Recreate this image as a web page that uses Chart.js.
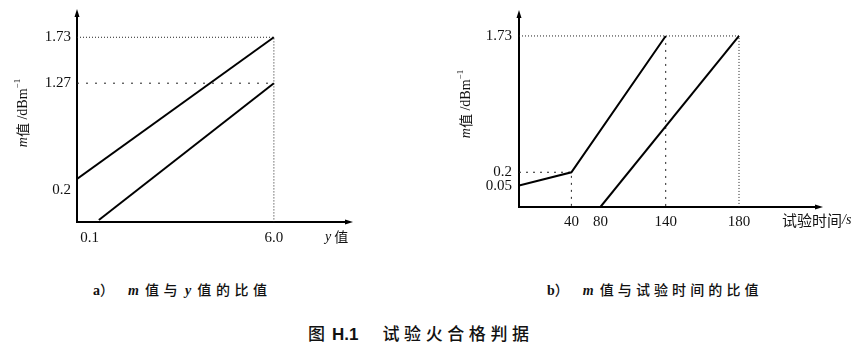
<!DOCTYPE html>
<html><head><meta charset="utf-8">
<script src="https://cdn.jsdelivr.net/npm/chart.js@4/dist/chart.umd.min.js"></script>
<style>
html,body{margin:0;padding:0;background:#fff;width:865px;height:355px;overflow:hidden;position:relative}
.box{position:absolute}
.cap{position:absolute;white-space:pre;color:#111;font-family:"Noto Sans CJK SC";font-size:14px;line-height:20px;font-weight:500}
.ser{font-family:"Liberation Serif";font-weight:bold}
.it{font-family:"Liberation Serif";font-style:italic;font-weight:bold}
</style></head><body>
<div class="box" style="left:0;top:0;width:360px;height:250px"><canvas id="ca" width="360" height="250"></canvas></div>
<div class="box" style="left:430px;top:0;width:435px;height:250px"><canvas id="cb" width="435" height="250"></canvas></div>
<div class="cap" style="left:93px;top:279px"><span class="ser">a</span><span>）</span><span class="it" style="margin-left:14px">m</span><span style="margin-left:6px;letter-spacing:4.6px">值与</span><span class="it" style="margin-left:3px">y</span><span style="margin-left:6px;letter-spacing:4.6px">值的比值</span></div>
<div class="cap" style="left:547px;top:279px"><span class="ser">b</span><span>）</span><span class="it" style="margin-left:14px">m</span><span style="margin-left:6px;letter-spacing:4.1px">值与试验时间的比值</span></div>
<div class="cap" style="left:308px;top:322px;font-size:17px;line-height:22px">图<span style="margin-left:7px;font-family:'Liberation Sans Narrow','Liberation Sans';font-weight:bold">H.1</span><span style="margin-left:24px;letter-spacing:4.6px">试验火合格判据</span></div>
<script>
// ---- chart a) : m value vs y value ----
const aXTicks = [0.1, 6.0];
const aYTicks = [0.2, 1.27, 1.73];
const aUpperX = [-0.3, 6.0];
const aUpperY = [0.31, 1.73];
const aLowerX = [0.4, 6.0];
const aLowerY = [-0.1, 1.27];
// ---- chart b) : m value vs test time ----
const bXTicks = [40, 80, 140, 180];
const bYTicks = [0.05, 0.2, 1.73];
const bUpperX = [0, 40, 140];
const bUpperY = [0.05, 0.2, 1.73];
const bLowerX = [80, 180];
const bLowerY = [-0.19, 1.73];

const A_XMIN = -0.3, A_XMAX = 8.34, A_YMIN = -0.12, A_YMAX = 1.953;
const B_XMIN = 0, B_XMAX = 220, B_YMIN = -0.19, B_YMAX = 1.954;

const pts = (xs, ys) => xs.map((x, i) => ({x, y: ys[i]}));
const solid = d => ({data: d, borderColor: '#000', borderWidth: 2, pointRadius: 0, fill: false, tension: 0});
const guide = (d, dash) => ({data: d, borderColor: '#222', borderWidth: 1, borderDash: dash, pointRadius: 0, fill: false, tension: 0});

// x scale of b) drawn with uneven spacing as in the original figure
class WarpScale extends Chart.LinearScale {
  static id = 'warp';
  static defaults = {};
  warp(v) {
    const k = this.options.knots;
    for (let i = 1; i < k.length; i++) {
      if (v <= k[i][0] || i === k.length - 1) {
        const v0 = k[i-1][0], f0 = k[i-1][1], v1 = k[i][0], f1 = k[i][1];
        return f0 + (v - v0) / (v1 - v0) * (f1 - f0);
      }
    }
    return 0;
  }
  getPixelForValue(value) { return this.getPixelForDecimal(this.warp(value)); }
  getValueForPixel(pixel) {
    const f = this.getDecimalForPixel(pixel), k = this.options.knots;
    for (let i = 1; i < k.length; i++) {
      if (f <= k[i][1] || i === k.length - 1) {
        const v0 = k[i-1][0], f0 = k[i-1][1], v1 = k[i][0], f1 = k[i][1];
        return v0 + (f - f0) / (f1 - f0) * (v1 - v0);
      }
    }
    return 0;
  }
}
Chart.register(WarpScale);

const tickFont = {family: 'Liberation Serif', size: 15};
const SER = '14px "Liberation Serif"', ITAL = 'italic 14px "Liberation Serif"', CJK = '14px "Noto Sans CJK SC"';

function drawRuns(ctx, runs, x, y) {
  let cx = x;
  for (const r of runs) {
    ctx.font = r.f;
    ctx.fillText(r.t, cx, y + (r.dy || 0));
    cx += ctx.measureText(r.t).width;
  }
}
function runsWidth(ctx, runs) {
  let w = 0;
  for (const r of runs) { ctx.font = r.f; w += ctx.measureText(r.t).width; }
  return w;
}
function decor(cfg) {
  return {
    id: 'decor',
    afterDraw(chart) {
      const {ctx, chartArea: a} = chart;
      ctx.save();
      ctx.fillStyle = '#000';
      ctx.beginPath();
      ctx.moveTo(a.left, a.top - 6); ctx.lineTo(a.left - 2.5, a.top + 2); ctx.lineTo(a.left + 2.5, a.top + 2);
      ctx.closePath(); ctx.fill();
      ctx.beginPath();
      ctx.moveTo(a.right + 6, a.bottom); ctx.lineTo(a.right - 2, a.bottom - 2.5); ctx.lineTo(a.right - 2, a.bottom + 2.5);
      ctx.closePath(); ctx.fill();
      ctx.fillStyle = '#111';
      ctx.textBaseline = 'middle';
      ctx.textAlign = 'left';
      ctx.save();
      ctx.translate(cfg.yt.x, cfg.yt.y);
      ctx.rotate(-Math.PI / 2);
      const w = runsWidth(ctx, cfg.yt.runs);
      drawRuns(ctx, cfg.yt.runs, -w / 2, 0);
      ctx.restore();
      drawRuns(ctx, cfg.xt.runs, cfg.xt.x, cfg.xt.y);
      ctx.restore();
    }
  };
}
const yTitleRuns = [{t: 'm', f: ITAL}, {t: '值', f: CJK}, {t: ' /dBm', f: SER}, {t: '−1', f: '9px "Liberation Serif"', dy: -5}];

new Chart(document.getElementById('ca'), {
  type: 'line',
  data: {datasets: [
    solid(pts(aUpperX, aUpperY)),
    solid(pts(aLowerX, aLowerY)),
    guide([{x: A_XMIN, y: aUpperY[1]}, {x: aUpperX[1], y: aUpperY[1]}, {x: aUpperX[1], y: A_YMIN}], [1, 2]),
    guide([{x: A_XMIN, y: aLowerY[1]}, {x: aLowerX[1], y: aLowerY[1]}], [2, 7])
  ]},
  options: {
    responsive: false, animation: false, events: [],
    layout: {padding: {top: 15, right: 13, left: 0, bottom: 0}},
    plugins: {legend: {display: false}, tooltip: {enabled: false}},
    scales: {
      x: {type: 'linear', min: A_XMIN, max: A_XMAX,
        grid: {display: false, drawTicks: false}, border: {display: true, color: '#000', width: 2},
        ticks: {autoSkip: false, maxRotation: 0, padding: 7, font: tickFont, color: '#111', callback: v => Number(v).toFixed(1)},
        afterBuildTicks: s => { s.ticks = aXTicks.map(v => ({value: v})); },
        afterFit: s => { s.height = 28; }},
      y: {type: 'linear', min: A_YMIN, max: A_YMAX,
        grid: {display: false, drawTicks: false}, border: {display: true, color: '#000', width: 2},
        ticks: {autoSkip: false, padding: 6, font: tickFont, color: '#111', callback: v => String(v)},
        afterBuildTicks: s => { s.ticks = aYTicks.map(v => ({value: v})); },
        afterFit: s => { s.width = 77; }}
    }
  },
  plugins: [decor({
    yt: {x: 23, y: 113, runs: yTitleRuns},
    xt: {x: 325, y: 237, runs: [{t: 'y', f: ITAL}, {t: ' 值', f: CJK}]}
  })]
});

new Chart(document.getElementById('cb'), {
  type: 'line',
  data: {datasets: [
    solid(pts(bUpperX, bUpperY)),
    solid(pts(bLowerX, bLowerY)),
    guide([{x: B_XMIN, y: bLowerY[1]}, {x: bLowerX[1], y: bLowerY[1]}, {x: bLowerX[1], y: B_YMIN}], [1, 2]),
    guide([{x: bUpperX[2], y: bUpperY[2]}, {x: bUpperX[2], y: B_YMIN}], [2, 5]),
    guide([{x: B_XMIN, y: bUpperY[1]}, {x: bUpperX[1], y: bUpperY[1]}, {x: bUpperX[1], y: B_YMIN}], [2, 5])
  ]},
  options: {
    responsive: false, animation: false, events: [],
    layout: {padding: {top: 13, right: 48, left: 0, bottom: 0}},
    plugins: {legend: {display: false}, tooltip: {enabled: false}},
    scales: {
      x: {type: 'warp', min: B_XMIN, max: B_XMAX,
        knots: [[0, 0], [40, 0.1758], [80, 0.2732], [140, 0.4923], [180, 0.7383], [220, 1]],
        grid: {display: false, drawTicks: false}, border: {display: true, color: '#000', width: 2},
        ticks: {autoSkip: false, maxRotation: 0, padding: 6, font: tickFont, color: '#111', callback: v => String(v)},
        afterBuildTicks: s => { s.ticks = bXTicks.map(v => ({value: v})); },
        afterFit: s => { s.height = 43; }},
      y: {type: 'linear', min: B_YMIN, max: B_YMAX,
        grid: {display: false, drawTicks: false}, border: {display: true, color: '#000', width: 2},
        ticks: {autoSkip: false, padding: 7, font: tickFont, color: '#111', callback: v => String(v)},
        afterBuildTicks: s => { s.ticks = bYTicks.map(v => ({value: v})); },
        afterFit: s => { s.width = 89; }}
    }
  },
  plugins: [decor({
    yt: {x: 36, y: 104, runs: yTitleRuns},
    xt: {x: 352, y: 220, runs: [{t: '试验时间', f: '15px "Noto Sans CJK SC"'}, {t: '/s', f: ITAL}]}
  })]
});
</script>
</body></html>
